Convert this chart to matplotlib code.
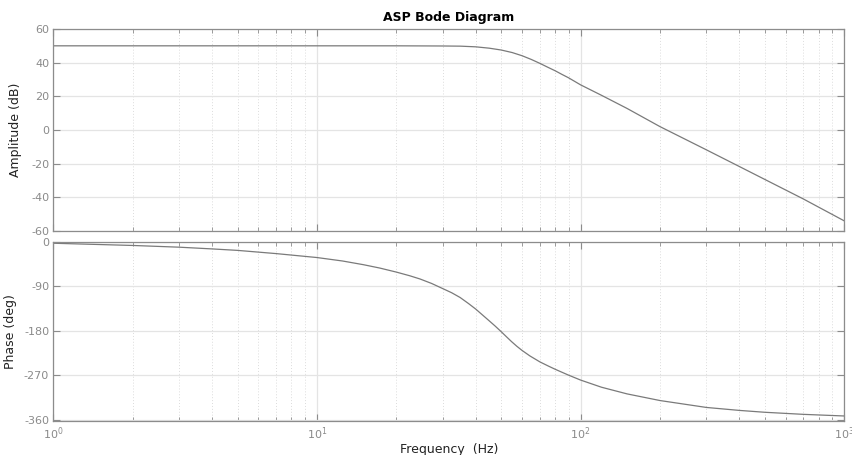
import matplotlib
matplotlib.use("Agg")
import matplotlib.pyplot as plt
from matplotlib.ticker import LogLocator, NullFormatter, FixedLocator

plt.rcParams["axes.unicode_minus"] = False

# Magnitude response samples
freq_mag = [1, 2, 5, 10, 20, 30, 35, 40, 45, 50, 55, 60, 65, 70, 75, 80, 85,
            90, 100, 120, 150, 200, 300, 400, 500, 700, 1000]
mag_db = [50, 50, 50, 50, 50, 49.9, 49.8, 49.4, 48.6, 47.5, 46.0, 44.1, 41.9,
          39.6, 37.3, 35.2, 33.0, 31.0, 26.8, 20.6, 12.8, 2.0, -11.8, -21.7,
          -29.4, -41.0, -54.0]

# Phase response samples
freq_ph = [1, 2, 3, 4, 5, 7, 10, 12.5, 15, 17.3, 20, 22.5, 24.6, 27.2, 30,
           32.4, 34.9, 37.5, 40, 44.6, 47.3, 50, 52.4, 54.7, 57.3, 60, 64.2,
           70, 75.4, 80, 90, 100, 120, 150, 200, 300, 400, 500, 700, 1000]
phase_deg = [-2.5, -7, -10.5, -14, -17, -23.5, -31.5, -38.5, -46, -52.8, -61,
             -68.5, -75, -84, -94.5, -102.8, -112.5, -124.5, -136, -158,
             -170, -182, -192.5, -202, -211.5, -220, -231, -243, -251.5,
             -258, -270, -280, -294.5, -308, -321.5, -335.5, -341.5, -345.3,
             -349.5, -352.8]

mag_ticks = [-60, -40, -20, 0, 20, 40, 60]
phase_ticks = [-360, -270, -180, -90, 0]

line_col = "#7a7a7a"
edge_col = "#8c8c8c"
tick_col = "#8a8a8a"
label_col = "#222222"

fig = plt.figure(figsize=(8.53, 4.55), dpi=100)
ax1 = fig.add_axes([0.0625, 0.4923, 0.9273, 0.4440])
ax2 = fig.add_axes([0.0625, 0.0747, 0.9273, 0.3945])


def style(ax):
    ax.set_xscale("log")
    ax.set_xlim(1, 1000)
    ax.xaxis.set_major_locator(LogLocator(base=10, numticks=10))
    ax.xaxis.set_minor_locator(LogLocator(base=10, subs=range(2, 10), numticks=10))
    ax.xaxis.set_minor_formatter(NullFormatter())
    ax.grid(True, which="major", color="#e4e4e4", linestyle="-", linewidth=0.9)
    ax.grid(True, which="minor", axis="x", color="#dcdcdc", linestyle=(0, (1, 2)),
            linewidth=0.7)
    ax.set_axisbelow(True)
    for s in ax.spines.values():
        s.set_color(edge_col)
        s.set_linewidth(0.9)
    ax.tick_params(which="both", direction="in", top=True, right=True,
                   colors=edge_col, labelcolor=tick_col, labelsize=8, pad=3)
    ax.tick_params(which="major", length=5)
    ax.tick_params(which="minor", length=3)


style(ax1)
ax1.plot(freq_mag, mag_db, color=line_col, linewidth=0.9)
ax1.set_ylim(-60, 60)
ax1.yaxis.set_major_locator(FixedLocator(mag_ticks))
ax1.tick_params(axis="x", labelbottom=False)
ax1.set_ylabel("Amplitude (dB)", fontsize=9, color=label_col)
ax1.yaxis.set_label_coords(-0.040, 0.5)
ax1.set_title("ASP Bode Diagram", fontsize=9, fontweight="bold", pad=6)

style(ax2)
ax2.plot(freq_ph, phase_deg, color=line_col, linewidth=0.9)
ax2.set_ylim(-363, 1)
ax2.yaxis.set_major_locator(FixedLocator(phase_ticks))
ax2.set_ylabel("Phase (deg)", fontsize=9, color=label_col)
ax2.yaxis.set_label_coords(-0.046, 0.5)
ax2.set_xlabel("Frequency  (Hz)", fontsize=9, color=label_col, labelpad=1)

fig.savefig("out.png", dpi=100)
